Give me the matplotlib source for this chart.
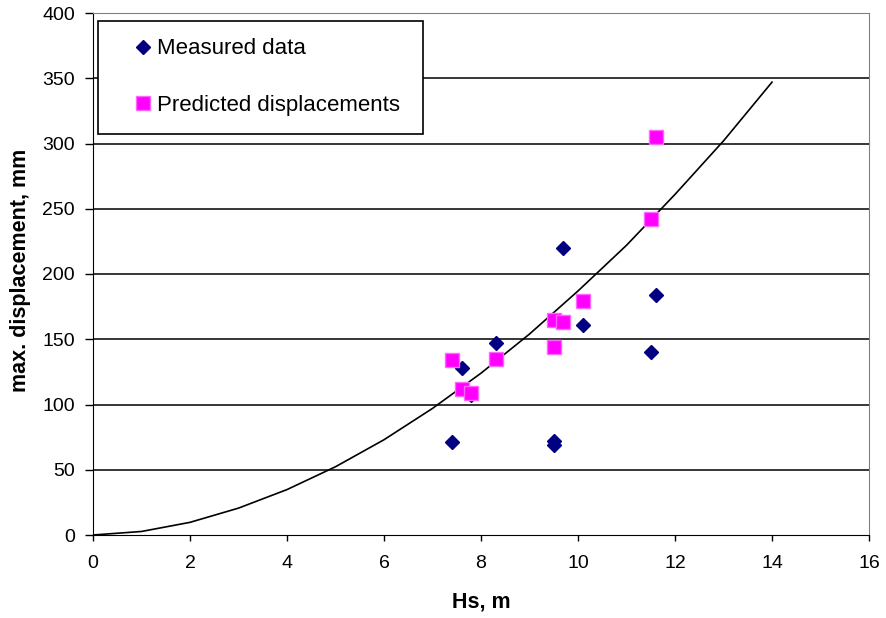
import matplotlib
matplotlib.use("Agg")
import matplotlib.pyplot as plt

# Measured data (diamonds)
meas_hs = [7.4, 7.6, 7.8, 8.3, 9.5, 9.5, 9.7, 10.1, 11.5, 11.6]
meas_disp = [71, 128, 107, 147, 72, 69, 220, 161, 140, 184]

# Predicted displacements (squares)
pred_hs = [7.4, 7.6, 7.8, 8.3, 9.5, 9.5, 9.7, 10.1, 11.5, 11.6]
pred_disp = [134, 112, 109, 135, 144, 165, 163, 179, 242, 305]

# Fitted curve
curve_hs = [0, 1, 2, 3, 4, 5, 6, 7, 8, 9, 10, 11, 12, 13, 14]
curve_disp = [0, 2.7, 9.7, 20.6, 34.8, 52.3, 73, 97, 124, 154, 187, 222, 261, 302, 347]

plt.rcParams.update({"font.family": ["Liberation Sans", "DejaVu Sans"], "font.size": 14})

fig = plt.figure(figsize=(8.87, 6.18), dpi=100)
ax = fig.add_axes([93 / 887, 1 - 535 / 618, (869 - 93) / 887, (535 - 13) / 618])

for y in range(50, 401, 50):
    ax.axhline(y, color="black", linewidth=1.1, zorder=1)

ax.plot(curve_hs, curve_disp, color="black", linewidth=1.2, zorder=2)
ax.plot(meas_hs, meas_disp, linestyle="none", marker="D", markersize=7.5,
        color="#000080", label="Measured data", zorder=3)
ax.plot(pred_hs, pred_disp, linestyle="none", marker="s", markersize=9.5,
        markerfacecolor="#FF00FF", markeredgecolor="#FF66FF", markeredgewidth=1,
        label="Predicted displacements", zorder=4)

ax.set_xlim(0, 16)
ax.set_ylim(0, 400)
ax.set_xticks(range(0, 17, 2))
ax.set_yticks(range(0, 401, 50))
ax.tick_params(axis="y", direction="out", length=6, width=1, pad=7)
ax.tick_params(axis="x", direction="out", length=4.5, width=1, pad=10)

for side in ["top", "right"]:
    ax.spines[side].set_color("#808080")
for side in ["left", "bottom"]:
    ax.spines[side].set_color("black")

ax.set_xlabel("Hs, m", fontweight="bold", fontsize=15.5, va="center")
ax.xaxis.set_label_coords(0.5, (535 - 602) / 522)
ax.set_ylabel("max. displacement, mm", fontweight="bold", fontsize=15.5, va="center")
ax.yaxis.set_label_coords((21 - 93) / 776, (535 - 270) / 522)

leg = ax.legend(loc="upper left",
                bbox_to_anchor=(98 / 887, 1 - 132 / 618, (423 - 98) / 887, (132 - 20.7) / 618),
                bbox_transform=fig.transFigure, mode="expand", frameon=True, fancybox=False,
                edgecolor="black", framealpha=1, fontsize=16, labelspacing=1.6,
                handlelength=2.45, handletextpad=-0.6, borderpad=0.8,
                borderaxespad=0, markerscale=1)
leg.get_frame().set_linewidth(1.2)

fig.savefig("out.png", dpi=100)
